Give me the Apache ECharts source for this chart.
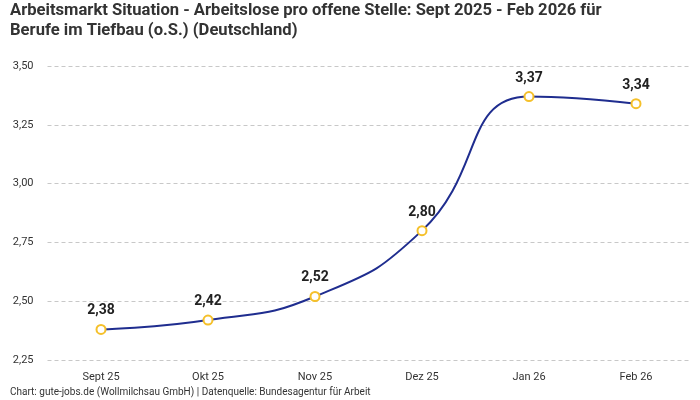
<!DOCTYPE html>
<html>
<head>
<meta charset="utf-8">
<script src="https://cdn.jsdelivr.net/npm/echarts@6/dist/echarts.min.js"></script>
<style>html,body{margin:0;padding:0;background:#fff}#c{width:700px;height:400px}</style>
</head>
<body>
<div id="c"></div>
<script>
const categories = ["Sept 25", "Okt 25", "Nov 25", "Dez 25", "Jan 26", "Feb 26"];
const values = [2.38, 2.42, 2.52, 2.80, 3.37, 3.34];
const yTicks = [2.25, 2.50, 2.75, 3.00, 3.25, 3.50];
const titleText = "Arbeitsmarkt Situation - Arbeitslose pro offene Stelle: Sept 2025 - Feb 2026 für\nBerufe im Tiefbau (o.S.) (Deutschland)";
const sourceText = "Chart: gute-jobs.de (Wollmilchsau GmbH) | Datenquelle: Bundesagentur für Arbeit";

const fmt = v => v.toFixed(2).replace('.', ',');
const chart = echarts.init(document.getElementById('c'), null, {renderer: 'canvas'});
chart.setOption({
  backgroundColor: '#fff',
  animation: false,
  textStyle: {fontFamily: 'Roboto, "Noto Sans", sans-serif'},
  title: [{
    text: titleText,
    left: 10, top: 1, padding: 0,
    textStyle: {fontSize: 16.6, fontWeight: 'bold', color: '#333', lineHeight: 20, fontFamily: 'Roboto, sans-serif'}
  }, {
    text: sourceText,
    left: 10, top: 387, padding: 0,
    textStyle: {fontSize: 10, fontWeight: 'normal', color: '#333', fontFamily: 'Roboto, sans-serif'}
  }],
  grid: {left: 47.5, right: 10.5, top: 66, bottom: 40, containLabel: false},
  xAxis: {
    type: 'category',
    data: categories,
    boundaryGap: true,
    axisLine: {show: false},
    axisTick: {show: false},
    axisLabel: {color: '#333', fontSize: 11, margin: 12}
  },
  yAxis: {
    type: 'value',
    min: yTicks[0], max: yTicks[yTicks.length - 1], interval: 0.25,
    axisLine: {show: false},
    axisTick: {show: false},
    axisLabel: {color: '#333', fontSize: 11, margin: 14, formatter: v => fmt(v)},
    splitLine: {lineStyle: {type: [4, 3], color: '#c8c8c8', width: 1}}
  },
  series: [{
    type: 'line',
    data: values,
    smooth: 0.5,
    symbol: 'circle',
    symbolSize: 9,
    lineStyle: {color: '#1f2d8f', width: 2},
    itemStyle: {color: '#fff', borderColor: '#f5c02a', borderWidth: 2},
    label: {
      show: true, position: 'top', distance: 6,
      formatter: p => fmt(p.value),
      fontSize: 14, fontWeight: 'bold', color: '#222'
    }
  }]
});
</script>
</body>
</html>
